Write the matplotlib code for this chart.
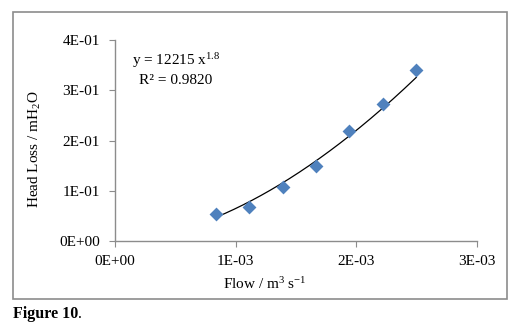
import numpy as np
import matplotlib
matplotlib.use("Agg")
import matplotlib.pyplot as plt
from matplotlib.patches import Rectangle

plt.rcParams['font.family'] = ['Liberation Serif', 'DejaVu Serif']
plt.rcParams['mathtext.fontset'] = 'custom'
plt.rcParams['mathtext.rm'] = 'Liberation Serif'
plt.rcParams['mathtext.it'] = 'Liberation Serif:italic'
plt.rcParams['mathtext.bf'] = 'Liberation Serif:bold'

flow = [0.834e-3, 1.110e-3, 1.390e-3, 1.666e-3, 1.942e-3, 2.218e-3, 2.497e-3]
head_loss = [0.055, 0.068, 0.108, 0.150, 0.219, 0.273, 0.340]
x_ticks = [0, 1e-3, 2e-3, 3e-3]
x_labels = ['0E+00', '1E-03', '2E-03', '3E-03']
y_ticks = [0, 0.1, 0.2, 0.3, 0.4]
y_labels = ['0E+00', '1E-01', '2E-01', '3E-01', '4E-01']

W, H = 521, 334
fig = plt.figure(figsize=(W / 100, H / 100), dpi=100)
fig.patches.append(Rectangle((13/W, 1-299/H), 494/W, 287/H, transform=fig.transFigure,
                             fill=False, edgecolor='#8c8c8c', linewidth=1.2))
ax = fig.add_axes([115/W, 1-241.3/H, 362/W, 201.6/H])

# power-law trendline fitted in log space (as Excel does)
b, loga = np.polyfit(np.log(flow), np.log(head_loss), 1)
xs = np.linspace(min(flow), max(flow), 200)
ax.plot(xs, np.exp(loga) * xs ** b, color='black', linewidth=0.9, zorder=2)
ax.scatter(flow, head_loss, marker='D', s=50, color='#4F81BD', zorder=3, linewidths=0)

ax.set_xlim(0, 3e-3)
ax.set_ylim(0, 0.4)
ax.set_xticks(x_ticks)
ax.set_xticklabels(x_labels)
ax.set_yticks(y_ticks)
ax.set_yticklabels(y_labels)
for s in ['top', 'right']:
    ax.spines[s].set_visible(False)
for s in ['left', 'bottom']:
    ax.spines[s].set_color('#8c8c8c')
    ax.spines[s].set_linewidth(1.0)
ax.tick_params(axis='both', direction='out', length=4, color='#8c8c8c', labelsize=11)
ax.tick_params(axis='y', pad=7)
ax.tick_params(axis='x', pad=6)

fig.text(265/W, 1-284/H, 'Flow / m$^{3}$ s$^{-1}$', fontsize=11, va='center', ha='center')
fig.text(35/W, 1-149/H, 'Head Loss / mH$_{2}$O', fontsize=11, va='center', ha='center', rotation=90)

fig.text(131.5/W, 1-61/H, 'y = 12215 x$^{1.8}$', fontsize=11, va='center', ha='left')
fig.text(139/W, 1-80.5/H, 'R² = 0.9820', fontsize=11, va='center', ha='left')
t = fig.text(13/W, 1-314/H, 'Figure 10', fontsize=11.5, fontweight='bold', va='center', ha='left')
fig.canvas.draw()
bb = t.get_window_extent(renderer=fig.canvas.get_renderer())
fig.text(bb.x1 / W, 1-314/H, '.', fontsize=11.5, va='center', ha='left')

fig.savefig('out.png', dpi=100)
